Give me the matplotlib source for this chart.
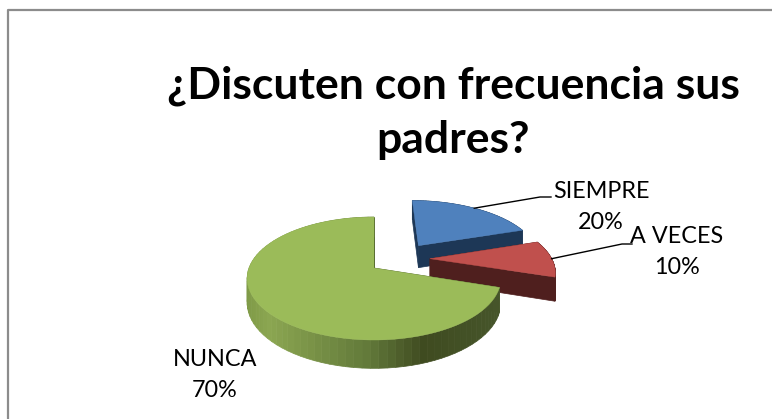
import numpy as np
import matplotlib
matplotlib.use('Agg')
import matplotlib.pyplot as plt
from matplotlib.colors import LinearSegmentedColormap

title = '¿Discuten con frecuencia sus\npadres?'
categories = ['SIEMPRE', 'A VECES', 'NUNCA']
values = [20, 10, 70]

top_colors = ['#4f81bd', '#c0504d', '#9bbb59']
side_colors = ['#1d3756', '#4f1f1e', '#4a5a2a']
# how far each slice is pulled out, in pie radii
shifts = [(0.38, 0.40), (0.46, 0.16), (0.0, 0.0)]

plt.rcParams['font.family'] = ['Lato', 'DejaVu Sans']

# Pie position on the picture, in pixels
cx, cy = 374, 268
rx, ry = 125, 59.7
persp = 0.171
depth = 23.5

green_side = LinearSegmentedColormap.from_list('green_side', [
    (0.0, '#7f9a47'), (0.1, '#8ba651'), (0.5, '#62793a'),
    (0.72, '#3f4b20'), (1.0, '#46552a')])


def project(u, v, drop=0.0):
    w = 1 + persp * v
    return cx + rx * u / w, cy - ry * v / w + drop / w


fig = plt.figure(figsize=(7.72, 4.19), dpi=100)
ax = fig.add_axes([0, 0, 1, 1])
ax.set_xlim(0, 772)
ax.set_ylim(419, 0)
ax.axis('off')

# Frame of the chart
ax.plot([8, 8, 772], [419, 10, 10], color='#8c8c8c', lw=1.6)

ax.text(453, 113, title, ha='center', va='center', fontsize=32,
        fontweight='bold', color='black', linespacing=1.42)

bounds = np.cumsum([0] + values) / np.sum(values) * 2 * np.pi
anchors = []

for i in range(len(values)):
    du, dv = shifts[i]
    t = np.linspace(bounds[i], bounds[i + 1], 80)
    u = du + np.sin(t)
    v = dv + np.cos(t)

    # cut faces
    for k in (0, -1):
        uu = np.array([du, u[k]])
        vv = np.array([dv, v[k]])
        x1, y1 = project(uu, vv)
        x2, y2 = project(uu, vv, depth)
        ax.fill(np.r_[x1, x2[::-1]], np.r_[y1, y2[::-1]],
                color=side_colors[i], lw=0.5)

    # outer wall
    x1, y1 = project(u, v)
    x2, y2 = project(u, v, depth)
    for j in range(len(t) - 1):
        if categories[i] == 'NUNCA':
            c = green_side((x1[j] - 246) / 252)
        else:
            c = side_colors[i]
        ax.fill([x1[j], x1[j + 1], x2[j + 1], x2[j]],
                [y1[j], y1[j + 1], y2[j + 1], y2[j]], color=c, lw=0.5)

    # top face
    ax.fill(np.r_[project(du, dv)[0], x1], np.r_[project(du, dv)[1], y1],
            color=top_colors[i], lw=0.3)

    mid = (bounds[i] + bounds[i + 1]) / 2
    anchors.append(project(du + np.sin(mid), dv + np.cos(mid)))

# Leader lines
ax.plot([anchors[0][0], 540, 551], [anchors[0][1], 197, 197], color='black', lw=1)
ax.plot([anchors[1][0], 622, 632], [anchors[1][1], 244, 244], color='black', lw=1)

label_pos = [(601, 207), (677, 252), (215, 375)]
for name, val, pos in zip(categories, values, label_pos):
    ax.text(pos[0], pos[1], '%s\n%d%%' % (name, val), ha='center', va='center',
            fontsize=16.8, color='black', linespacing=1.6)

fig.savefig('out.png', dpi=100)
